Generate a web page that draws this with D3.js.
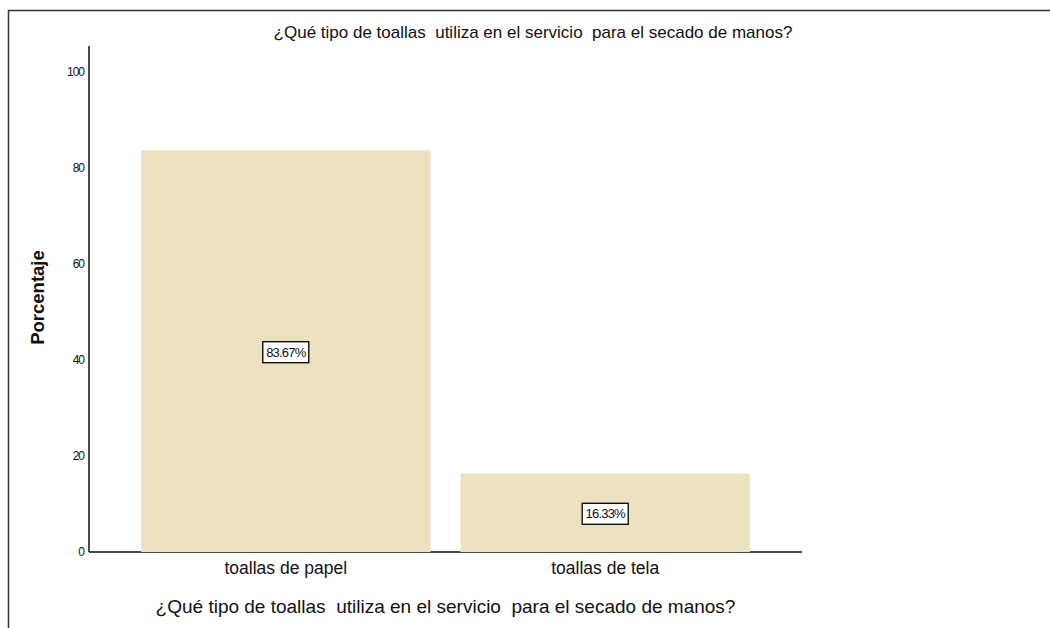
<!DOCTYPE html>
<html>
<head>
<meta charset="utf-8">
<script src="https://cdn.jsdelivr.net/npm/d3@7"></script>
<style>
  body { margin: 0; background: #fff; }
  svg { display: block; font-family: "Liberation Sans", Arial, sans-serif; }
  text { white-space: pre; }
</style>
</head>
<body>
<svg></svg>
<script>
const TITLE = "¿Qué tipo de toallas  utiliza en el servicio  para el secado de manos?",
  Y_TITLE = "Porcentaje",
  categories = ["toallas de papel", "toallas de tela"],
  values = [83.67, 16.33],
  yTicks = [0, 20, 40, 60, 80, 100],
  margin = { top: 72, right: 248, bottom: 76, left: 89 },
  W = 1050,
  H = 628,
  width = W - margin.left - margin.right,
  height = H - margin.top - margin.bottom,
  barColor = "#ece2bf",
  f = d3.format(".2f");

var svg = d3.select("svg").attr("width", W).attr("height", H);

// outer frame (only top and left edges visible)
svg.append("path")
  .attr("d", "M8.5," + H + "V10.5H" + W)
  .attr("fill", "none")
  .attr("stroke", "#333")
  .attr("stroke-width", 1.5);

var chart = svg.append("g")
  .attr("transform", "translate(" + margin.left + "," + margin.top + ")");

var x = d3.scaleBand().domain(categories).range([0, width])
  .paddingInner(0.094).paddingOuter(0.163);
var y = d3.scaleLinear().domain([0, 100]).range([height, 0]);

// axis lines
chart.append("line")
  .attr("x1", 0).attr("x2", width)
  .attr("y1", height).attr("y2", height)
  .attr("stroke", "#111").attr("stroke-width", 1.5);

chart.append("line")
  .attr("x1", 0).attr("x2", 0)
  .attr("y1", y(100) - 26).attr("y2", height)
  .attr("stroke", "#111").attr("stroke-width", 1.5);

// y tick labels (no tick marks)
var yAxis = d3.axisLeft(y).tickValues(yTicks).tickSize(0).tickPadding(5);
chart.append("g")
  .call(yAxis)
  .call(g => g.select(".domain").remove())
  .selectAll("text")
  .attr("font-family", "'Liberation Sans', Arial, sans-serif")
  .attr("font-size", 12)
  .attr("letter-spacing", -1)
  .attr("fill", "#111");

// bars
chart.selectAll("rect.bar")
  .data(values)
  .enter()
  .append("rect")
  .attr("class", "bar")
  .attr("x", (d, i) => x(categories[i]))
  .attr("y", d => y(d))
  .attr("width", x.bandwidth())
  .attr("height", d => height - y(d))
  .attr("fill", barColor);

// value labels in boxes
var lab = chart.selectAll("g.lab")
  .data(values)
  .enter()
  .append("g")
  .attr("class", "lab")
  .attr("transform", (d, i) =>
    "translate(" + (x(categories[i]) + x.bandwidth() / 2) + "," + (y(d / 2) + 1) + ")");

lab.append("rect")
  .attr("x", -23).attr("y", -10.5)
  .attr("width", 46).attr("height", 21)
  .attr("fill", "#fff")
  .attr("stroke", "#111")
  .attr("stroke-width", 1.4);

lab.append("text")
  .attr("text-anchor", "middle")
  .attr("dy", "0.36em")
  .attr("font-size", 13)
  .attr("letter-spacing", -0.8)
  .attr("fill", "#111")
  .text(d => f(d) + "%");

// category labels
var xAxis = d3.axisBottom(x).tickSize(0).tickPadding(10);
chart.append("g")
  .attr("transform", "translate(0," + height + ")")
  .call(xAxis)
  .call(g => g.select(".domain").remove())
  .selectAll("text")
  .attr("font-family", "'Liberation Sans', Arial, sans-serif")
  .attr("font-size", 17.5)
  .attr("fill", "#111");

// x title
chart.append("text")
  .attr("x", width / 2)
  .attr("y", height + 61)
  .attr("text-anchor", "middle")
  .attr("font-size", 19)
  .attr("fill", "#111")
  .text(TITLE);

// y title
chart.append("text")
  .attr("transform", "rotate(-90)")
  .attr("x", -225.5)
  .attr("y", -45)
  .attr("text-anchor", "middle")
  .attr("font-size", 18.5)
  .attr("font-weight", "bold")
  .attr("fill", "#111")
  .text(Y_TITLE);

// chart title
svg.append("text")
  .attr("x", 533)
  .attr("y", 37.5)
  .attr("text-anchor", "middle")
  .attr("font-size", 17)
  .attr("fill", "#111")
  .style("-webkit-text-stroke", "0.3px #111")
  .text(TITLE);
</script>
</body>
</html>
